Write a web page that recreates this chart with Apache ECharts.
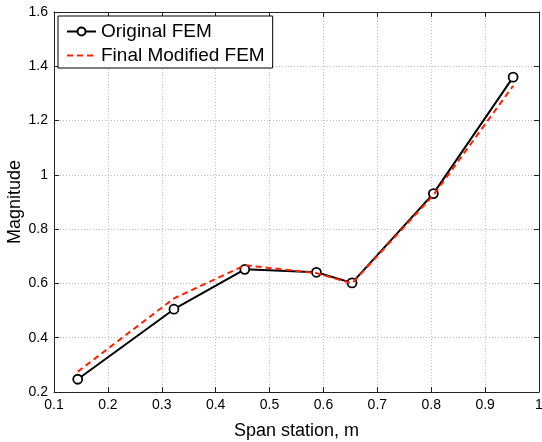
<!DOCTYPE html>
<html><head><meta charset="utf-8">
<script src="https://cdn.jsdelivr.net/npm/echarts@6/dist/echarts.min.js"></script>
<style>html,body{margin:0;padding:0;background:#fff}#c{width:542px;height:442px}</style>
</head><body><div id="c"></div>
<script>
const stations = [0.144, 0.3226, 0.454, 0.587, 0.653, 0.804, 0.952];
const originalFEM = [0.247, 0.505, 0.652, 0.641, 0.602, 0.931, 1.36];
const modifiedFEM = [0.275, 0.545, 0.667, 0.638, 0.600, 0.925, 1.328];
const xTicks = [0.1, 1.0];
const yTicks = [0.2, 1.6];

const ff = 'Liberation Sans, Arial, Helvetica, sans-serif';
const chart = echarts.init(document.getElementById('c'));
const pair = (xs, ys) => xs.map((x, i) => [x, ys[i]]);
const axisCommon = {
  axisLine: {show: true, lineStyle: {color: '#222', width: 1}},
  axisTick: {show: true, inside: true, length: 5, lineStyle: {color: '#222'}},
};
const fmt = v => (Math.abs(v - 1) < 1e-9 ? '1' : v.toFixed(1));
chart.setOption({
  animation: false,
  backgroundColor: '#fff',
  grid: {left: 54, top: 12, right: 3, bottom: 50, show: false, containLabel: false, outerBoundsMode: 'none'},
  legend: {
    orient: 'vertical', left: 58, top: 16, padding: [6, 8, 3, 8],
    backgroundColor: '#fff', borderColor: '#000', borderWidth: 1,
    itemWidth: 29, itemHeight: 10, itemGap: 5,
    textStyle: {fontFamily: ff, fontSize: 19, color: '#000'},
    data: ['Original FEM', {name: 'Final Modified FEM', itemStyle: {opacity: 0}}]
  },
  xAxis: [{
    type: 'value', min: xTicks[0], max: xTicks[1], interval: 0.1,
    ...axisCommon,
    axisLabel: {fontFamily: ff, fontSize: 14, color: '#000', margin: 6, formatter: fmt},
    splitLine: {show: true, lineStyle: {color: '#bbb', type: [1, 2], width: 1}},
    name: 'Span station, m', nameLocation: 'middle', nameGap: 30, nameMoveOverlap: false,
    nameTextStyle: {fontFamily: ff, fontSize: 18, color: '#000'}
  }, {
    type: 'value', position: 'top', min: xTicks[0], max: xTicks[1], interval: 0.1,
    ...axisCommon, axisLabel: {show: false}, splitLine: {show: false}
  }],
  yAxis: [{
    type: 'value', min: yTicks[0], max: yTicks[1], interval: 0.2,
    ...axisCommon,
    axisLabel: {fontFamily: ff, fontSize: 14, color: '#000', margin: 6, formatter: fmt},
    splitLine: {show: true, lineStyle: {color: '#bbb', type: [1, 2], width: 1}},
    name: 'Magnitude', nameLocation: 'middle', nameGap: 30, nameMoveOverlap: false,
    nameTextStyle: {fontFamily: ff, fontSize: 18, color: '#000'}
  }, {
    type: 'value', position: 'right', min: yTicks[0], max: yTicks[1], interval: 0.2,
    ...axisCommon, axisLabel: {show: false}, splitLine: {show: false}
  }],
  series: [{
    name: 'Original FEM', type: 'line', data: pair(stations, originalFEM),
    symbol: 'circle', symbolSize: 9, showAllSymbol: true,
    itemStyle: {color: '#fff', borderColor: '#000', borderWidth: 1.8},
    lineStyle: {color: '#000', width: 2}, z: 3
  }, {
    name: 'Final Modified FEM', type: 'line', data: pair(stations, modifiedFEM),
    symbol: 'none',
    itemStyle: {color: '#ff2000'},
    lineStyle: {color: '#ff2000', width: 2, type: [6, 4]}, z: 4
  }]
});
</script></body></html>
